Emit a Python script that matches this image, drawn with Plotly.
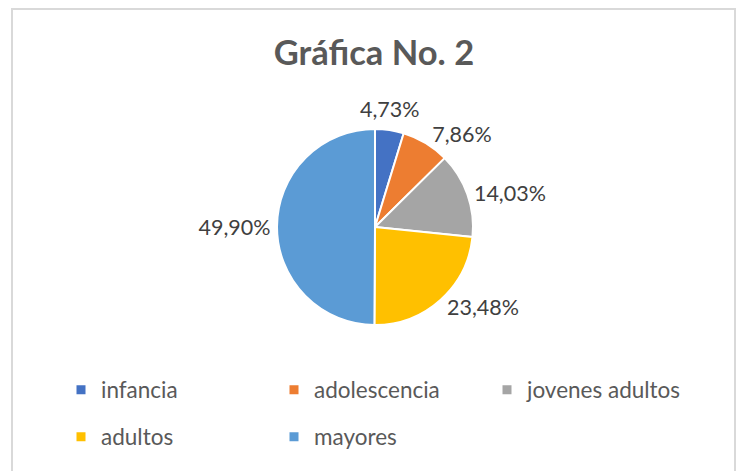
import math
import plotly.graph_objects as go

categories = ["infancia", "adolescencia", "jovenes adultos", "adultos", "mayores"]
values = [4.73, 7.86, 14.03, 23.48, 49.90]
colors = ["#4472C4", "#ED7D31", "#A5A5A5", "#FFC000", "#5B9BD5"]
title_text = "Gráfica No. 2"

W, H = 744, 471
OFF = 8  # page body margin offset
FONT = "Lato, 'Open Sans', sans-serif"

# pie geometry (pixels, in page coordinates)
CX, CY, R = 375, 227, 98


def px(x):
    return (x - OFF) / W


def py(y):
    return 1 - (y - OFF) / H


labels_txt = [f"{v:.2f}".replace(".", ",") + "%" for v in values]
total = sum(values)

# smallest slice: label placed by its mid-angle (avoids plotly's leader line)
positions = ["none"] + ["outside"] * (len(values) - 1)
theta0 = 2 * math.pi * (values[0] / 2) / total
ax = CX + (R + 6) * math.sin(theta0)
ay = CY - (R + 6) * math.cos(theta0)

fig = go.Figure()
fig.add_trace(go.Pie(
    labels=categories, values=values, sort=False, direction="clockwise", rotation=0,
    marker=dict(colors=colors, line=dict(color="white", width=2)),
    text=labels_txt, textinfo="text", textposition=positions,
    outsidetextfont=dict(family=FONT, size=21.5, color="#404040"),
    domain=dict(x=[px(CX - R), px(CX + R)], y=[py(CY + R), py(CY - R)]),
    showlegend=False, hoverinfo="label+percent",
))

for i, (c, col) in enumerate(zip(categories, colors)):
    fig.add_trace(go.Scatter(
        x=[None], y=[None], mode="markers", name=c,
        marker=dict(symbol="square", size=9, color=col),
        legend="legend" if i < 3 else "legend2",
    ))

legend_common = dict(
    orientation="h", xanchor="left", yanchor="middle",
    font=dict(family=FONT, size=22.5, color="#595959"),
    entrywidth=168, entrywidthmode="pixels", bgcolor="rgba(0,0,0,0)",
    itemclick=False, itemdoubleclick=False,
)

fig.update_layout(
    width=W, height=H,
    margin=dict(l=0, r=0, t=0, b=0, autoexpand=False),
    paper_bgcolor="white", plot_bgcolor="white",
    title=dict(text=f"<b>{title_text}</b>", x=px(374), xanchor="center",
               y=py(53), yanchor="middle",
               font=dict(family=FONT, size=34.5, color="#595959")),
    xaxis=dict(visible=False), yaxis=dict(visible=False),
    legend=dict(x=px(61), y=py(390), **legend_common),
    legend2=dict(x=px(61), y=py(437), **legend_common),
    annotations=[dict(text=labels_txt[0], x=px(ax), y=py(ay), xref="paper", yref="paper",
                      xanchor="center", yanchor="bottom", showarrow=False,
                      font=dict(family=FONT, size=21.5, color="#404040"))],
    shapes=[dict(type="rect", xref="paper", yref="paper",
                 x0=px(12), x1=px(735), y0=-0.2, y1=py(9),
                 line=dict(color="#D9D9D9", width=2), fillcolor="rgba(0,0,0,0)",
                 layer="below")],
)

fig.write_html("out.html")
